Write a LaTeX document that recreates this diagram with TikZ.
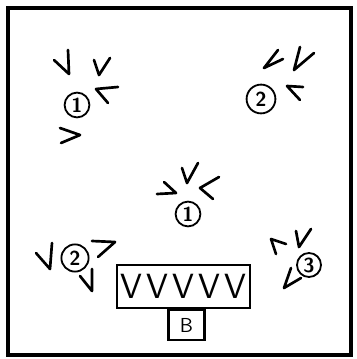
\documentclass[tikz,border=0pt]{standalone}
\usetikzlibrary{positioning}
\begin{document}
\begin{tikzpicture}[x=0.025cm, y=-0.025cm, num/.style={draw, circle, line width=1.3pt, inner sep=0pt, font=\sffamily\bfseries\Large}, stroke/.style={line width=1.9pt, line cap=round, line join=round}, caja/.style={draw, line width=1.5pt, inner sep=0pt}]
                    \useasboundingbox (0,0) rectangle (356,359);
                    \draw[line width=2.2pt] (8,8) rectangle (351,355);

                    % Grupos de marcas
                    \node[num, minimum size=0.62cm] (g1) at (77,105) {1};
                    \draw[stroke] (54,60) -- (69,74) -- (68,50);
                    \draw[stroke] (94,60) -- (99,75) -- (110,58);
                    \draw[stroke] (118,87) -- (96,89) -- (108,103);
                    \draw[stroke] (60,128) -- (80,135) -- (61,143);

                    \node[num, minimum size=0.72cm] (g2) at (261,99) {2};
                    \draw[stroke] (278,50) -- (264,68) -- (283,59);
                    \draw[stroke] (300,47) -- (294,70) -- (314,53);
                    \draw[stroke] (303,87) -- (287,86) -- (300,100);

                    \node[num, minimum size=0.62cm] (g3) at (188,214) {1};
                    \draw[stroke] (164,182) -- (176,193) -- (157,194);
                    \draw[stroke] (182,168) -- (187,183) -- (198,163);
                    \draw[stroke] (219,177) -- (200,188) -- (213,199);

                    \node[num, minimum size=0.68cm] (g4) at (75,258) {2};
                    \draw[stroke] (36,253) -- (50,269) -- (52,243);
                    \draw[stroke] (92,241) -- (115,242) -- (98,257);
                    \draw[stroke] (80,276) -- (92,291) -- (92,269);

                    \node[num, minimum size=0.6cm] (g5) at (309,265) {3};
                    \draw[stroke] (296,231) -- (299,247) -- (311,229);
                    \draw[stroke] (286,244) -- (271,239) -- (276,254);
                    \draw[stroke] (291,268) -- (284,288) -- (301,278);

                    % Fila y caja B
                    \node[caja, minimum width=3.33cm, minimum height=1.08cm, font=\sffamily\Huge] (fila) at (183.5,286.5) {V\hspace{3pt}V\hspace{3pt}V\hspace{3pt}V\hspace{3pt}V};
                    \node[caja, minimum width=0.9cm, minimum height=0.75cm, font=\sffamily\Large, below=0pt of fila, xshift=0.075cm] (b) {B};
                \end{tikzpicture}
\end{document}
